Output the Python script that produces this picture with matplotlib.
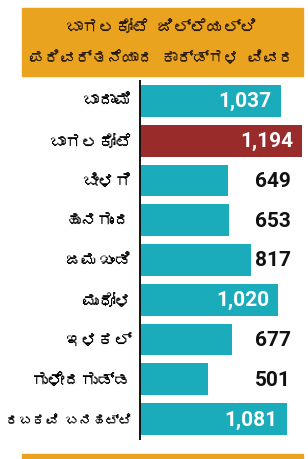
import matplotlib
matplotlib.use("Agg")
import matplotlib.pyplot as plt
from matplotlib import font_manager
from matplotlib.ft2font import FT2Font
from matplotlib.patches import Rectangle

# data
title_lines = ["ಬಾಗಲಕೋಟೆ ಜಿಲ್ಲೆಯಲ್ಲಿ", "ಪರಿವರ್ತನೆಯಾದ ಕಾರ್ಡ್ಗಳ ವಿವರ"]
taluks = ["ಬಾದಾಮಿ", "ಬಾಗಲಕೋಟೆ", "ಬೀಳಗಿ", "ಹುನಗುಂದ", "ಜಮಖಂಡಿ",
          "ಮುಧೋಳ", "ಇಳಕಲ್", "ಗುಳೇದಗುಡ್ಡ", "ರಬಕವಿ ಬನಹಟ್ಟಿ"]
cards = [1037, 1194, 649, 653, 817, 1020, 677, 501, 1081]
highlight = "ಬಾಗಲಕೋಟೆ"

TEAL = "#1bacbc"
RED = "#9a2b2b"
ORANGE = "#eaa31f"


def kannada_family():
    # look for any installed font that actually carries Kannada glyphs
    for entry in font_manager.fontManager.ttflist:
        try:
            if FT2Font(entry.fname).get_char_index(0x0C95):
                return entry.name
        except Exception:
            pass
    return "DejaVu Sans"


kn = [kannada_family(), "DejaVu Sans"]
num_font = ["Roboto", "DejaVu Sans"]

fig = plt.figure(figsize=(3.08, 4.60), dpi=100)
W, H = 308, 460

# title box and bottom strip
fig.patches.append(Rectangle((22 / W, 1 - 77 / H), 281 / W, 68 / H,
                             transform=fig.transFigure, color=ORANGE, zorder=0))
fig.patches.append(Rectangle((22 / W, 0), 281 / W, 5 / H,
                             transform=fig.transFigure, color=ORANGE, zorder=0))
titles = []
for i, line in enumerate(title_lines):
    titles.append(fig.text(162 / W, 1 - (27 + 31 * i) / H, line, ha="center",
                           va="center", fontsize=12, fontweight="bold",
                           color="#2a1a0c", family=kn))

ax = fig.add_axes([140 / W, 20 / H, 162 / W, 358 / H])
ypos = list(range(len(taluks)))
colors = [RED if t == highlight else TEAL for t in taluks]
ax.barh(ypos, cards, height=0.8, color=colors, left=0)
ax.set_xlim(0, max(cards))
ax.set_ylim(len(taluks) - 0.5, -0.5)

for sp in ["top", "right", "bottom"]:
    ax.spines[sp].set_visible(False)
ax.spines["left"].set_linewidth(1.4)
ax.spines["left"].set_color("#111111")
ax.set_xticks([])
ax.set_yticks(ypos)
ax.set_yticklabels(taluks, family=kn, fontsize=12, fontweight="bold")
ax.tick_params(axis="y", length=0, pad=6)

outside_x = (255 - 140) / 162 * max(cards)
for y, v in zip(ypos, cards):
    txt = f"{v:,}"
    if v > 1000:
        ax.annotate(txt, (v, y), xytext=(-9, 0), textcoords="offset pixels",
                    ha="right", va="center", color="white", fontsize=15,
                    fontweight="bold", family=num_font)
    else:
        ax.text(outside_x, y, txt, ha="left", va="center", color="#111111",
                fontsize=15, fontweight="bold", family=num_font)

# shrink any Kannada text that runs past its space
fig.canvas.draw()
r = fig.canvas.get_renderer()
for lbl in ax.get_yticklabels():
    bb = lbl.get_window_extent(r)
    if bb.x0 < 6:
        lbl.set_fontsize(lbl.get_fontsize() * (bb.x1 - 6) / bb.width)
for t in titles:
    bb = t.get_window_extent(r)
    if bb.width > 265:
        t.set_fontsize(t.get_fontsize() * 265 / bb.width)

fig.savefig("out.png", dpi=100)
